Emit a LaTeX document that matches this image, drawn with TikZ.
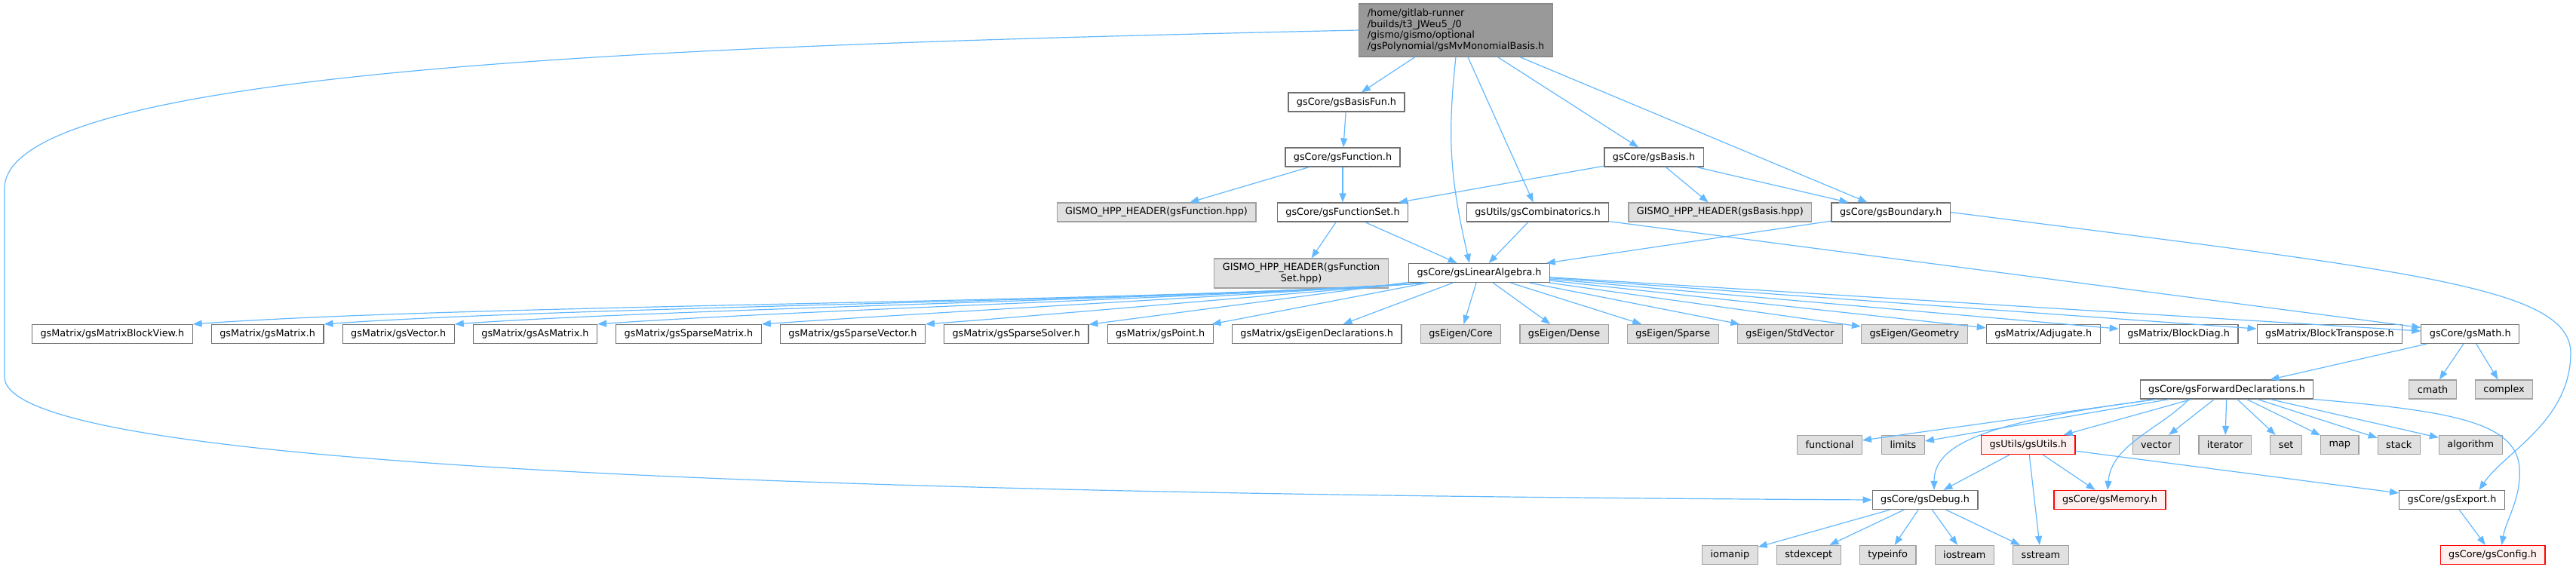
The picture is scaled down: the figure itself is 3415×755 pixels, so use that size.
\documentclass[tikz,border=0pt]{standalone}
\usepackage{fontspec}
\setmainfont{DejaVu Sans}
\usepackage{xcolor}
\usepackage{tikz}
\usetikzlibrary{arrows.meta,positioning}

\definecolor{edgeblue}{HTML}{63B8FF}
\definecolor{mainfill}{HTML}{999999}
\definecolor{mainline}{HTML}{888888}
\definecolor{hdrline}{HTML}{707070}
\definecolor{sysfill}{HTML}{E0E0E0}
\definecolor{sysline}{HTML}{A0A0A0}
\definecolor{redfill}{HTML}{FFF0F0}
\newcommand{\graphfont}{\fontsize{12.8}{14.7}\selectfont}

\begin{document}
\begin{tikzpicture}[x=1pt, y=1pt,
  hbox/.style={draw=hdrline, fill=white, line width=1.2pt, minimum height=25pt,
               inner xsep=11pt, inner ysep=5pt, font=\graphfont},
  gbox/.style={hbox, draw=sysline, fill=sysfill},
  rbox/.style={hbox, draw=red, fill=redfill},
  arrow/.style={-{Triangle[length=12pt,width=9pt]}, draw=edgeblue, line width=1.2pt},
  node distance=24pt
]
\useasboundingbox (0,0) rectangle (3415,-755);

% upper part
\node[hbox, fill=mainfill, draw=mainline, align=left, minimum height=70pt] (main) at (1930,-40)
  {/home/gitlab-runner\\/builds/t3\_JWeu5\_/0\\/gismo/gismo/optional\\/gsPolynomial/gsMvMonomialBasis.h};
\node[hbox] (basisfun) at (1785,-135.5) {gsCore/gsBasisFun.h};
\node[hbox] (function) at (1780,-208.5) {gsCore/gsFunction.h};
\node[hbox] (basis) at (2192.5,-208.5) {gsCore/gsBasis.h};
\node[gbox] (funchpp) at (1533,-281.5) {GISMO\_HPP\_HEADER(gsFunction.hpp)};
\node[hbox] (funcset) at (1780,-281.5) {gsCore/gsFunctionSet.h};
\node[hbox] (combi) at (2038.5,-281.5) {gsUtils/gsCombinatorics.h};
\node[gbox, right=25pt of combi] (basishpp) {GISMO\_HPP\_HEADER(gsBasis.hpp)};
\node[hbox, right=25pt of basishpp] (boundary) {gsCore/gsBoundary.h};
\node[gbox, align=center, minimum height=39pt] (fsethpp) at (1725,-362.5) {GISMO\_HPP\_HEADER(gsFunction\\Set.hpp)};
\node[hbox] (linalg) at (1961,-362) {gsCore/gsLinearAlgebra.h};

% row of gsLinearAlgebra.h
\node[hbox, anchor=west] (blockview) at (42,-443) {gsMatrix/gsMatrixBlockView.h};
\node[hbox, right=of blockview] (gsmatrix) {gsMatrix/gsMatrix.h};
\node[hbox, right=of gsmatrix] (gsvector) {gsMatrix/gsVector.h};
\node[hbox, right=of gsvector] (asmatrix) {gsMatrix/gsAsMatrix.h};
\node[hbox, right=of asmatrix] (spmatrix) {gsMatrix/gsSparseMatrix.h};
\node[hbox, right=of spmatrix] (spvector) {gsMatrix/gsSparseVector.h};
\node[hbox, right=of spvector] (spsolver) {gsMatrix/gsSparseSolver.h};
\node[hbox, right=of spsolver] (point) {gsMatrix/gsPoint.h};
\node[hbox, right=of point] (eigdecl) {gsMatrix/gsEigenDeclarations.h};
\node[gbox, right=of eigdecl] (eigcore) {gsEigen/Core};
\node[gbox, right=of eigcore] (eigdense) {gsEigen/Dense};
\node[gbox, right=of eigdense] (eigsparse) {gsEigen/Sparse};
\node[gbox, right=of eigsparse] (eigstdvec) {gsEigen/StdVector};
\node[gbox, right=of eigstdvec] (eiggeom) {gsEigen/Geometry};
\node[hbox, right=of eiggeom] (adjugate) {gsMatrix/Adjugate.h};
\node[hbox, right=of adjugate] (blockdiag) {gsMatrix/BlockDiag.h};
\node[hbox, right=of blockdiag] (blocktrans) {gsMatrix/BlockTranspose.h};
\node[hbox, right=of blocktrans] (math) {gsCore/gsMath.h};

% lower part
\node[hbox] (fwddecl) at (2952,-516.5) {gsCore/gsForwardDeclarations.h};
\node[gbox] (cmath) at (3225,-516.5) {cmath};
\node[gbox, right=of cmath] (complex) {complex};

\node[gbox, anchor=west] (functional) at (2382,-590) {functional};
\node[gbox, right=25pt of functional] (limits) {limits};
\node[rbox, right=74pt of limits] (utils) {gsUtils/gsUtils.h};
\node[gbox, right=75pt of utils] (vector) {vector};
\node[gbox, right=of vector] (iterator) {iterator};
\node[gbox, right=of iterator] (set) {set};
\node[gbox, right=of set] (map) {map};
\node[gbox, right=of map] (stack) {stack};
\node[gbox, right=of stack] (algorithm) {algorithm};

\node[hbox] (debug) at (2552,-663) {gsCore/gsDebug.h};
\node[rbox] (memory) at (2797,-663) {gsCore/gsMemory.h};
\node[hbox] (export) at (3250.5,-663) {gsCore/gsExport.h};

\node[gbox, anchor=west] (iomanip) at (2256,-736) {iomanip};
\node[gbox, right=of iomanip] (stdexcept) {stdexcept};
\node[gbox, right=of stdexcept] (typeinfo) {typeinfo};
\node[gbox, right=of typeinfo] (iostream) {iostream};
\node[gbox, right=of iostream] (sstream) {sstream};
\node[rbox] (config) at (3304.5,-736) {gsCore/gsConfig.h};

% edges
\draw[arrow] (main) -- (basisfun);
\draw[arrow] (main.south) .. controls +(-12,-110) and +(-25,110) .. ([xshift=-13pt]linalg.north);
\draw[arrow] (main) -- (combi);
\draw[arrow] (main) -- (basis);
\draw[arrow] (main) -- (boundary);
\draw[arrow] (main.west) .. controls (900,-60) and (6,-90) .. (6,-250) -- (6,-500)
  .. controls (6,-615) and (1000,-655) .. (debug.west);
\draw[arrow] (basisfun) -- (function);
\draw[arrow] (function) -- (funchpp);
\draw[arrow] (function) -- (funcset);
\draw[arrow] (basis) -- (funcset);
\draw[arrow] (basis) -- (basishpp);
\draw[arrow] (basis) -- (boundary);
\draw[arrow] (funcset) -- (fsethpp);
\draw[arrow] (funcset) -- (linalg);
\draw[arrow] (combi) -- (linalg);
\draw[arrow] (combi) -- (math);
\draw[arrow] (boundary) -- (linalg);
\draw[arrow] (boundary.east) .. controls (3200,-360) and (3410,-380) .. (3408,-470)
  .. controls (3406,-560) and (3320,-600) .. ([xshift=36pt]export.north);

\foreach \n/\d/\h in {blockview/383/27, gsmatrix/342/24, gsvector/300/21, asmatrix/255/18, spmatrix/204/14, spvector/152/11}
  \draw[arrow] ([xshift=25pt]linalg.south west) .. controls +(-\d,-\h) and +(\d,\h) .. (\n.north east);
\foreach \n in {spsolver,point,eigdecl,eigcore,eigdense,eigsparse,eigstdvec,eiggeom,adjugate,blockdiag,blocktrans,math}
  \draw[arrow] (linalg) -- (\n);

\draw[arrow] (math) -- (fwddecl);
\draw[arrow] (math) -- (cmath);
\draw[arrow] (math) -- (complex);

\foreach \n in {functional,limits,utils,vector,iterator,set,map,stack,algorithm}
  \draw[arrow] (fwddecl) -- (\n);
\draw[arrow] ([xshift=22pt]fwddecl.south west) .. controls +(-230,-30) and +(0,60) .. ([xshift=12pt]debug.north);
\draw[arrow] ([xshift=-50pt]fwddecl.south) .. controls +(-40,-40) and +(5,60) .. ([xshift=-3pt]memory.north);
\draw[arrow] (fwddecl.south east) .. controls (3250,-545) and (3335,-560) .. (3340,-620)
  .. controls (3343,-660) and (3322,-690) .. ([xshift=12pt]config.north);

\foreach \n in {debug,memory,sstream,export}
  \draw[arrow] (utils) -- (\n);
\foreach \n in {iomanip,stdexcept,typeinfo,iostream,sstream}
  \draw[arrow] (debug) -- (\n);
\draw[arrow] (export) -- (config);
\end{tikzpicture}
\end{document}
